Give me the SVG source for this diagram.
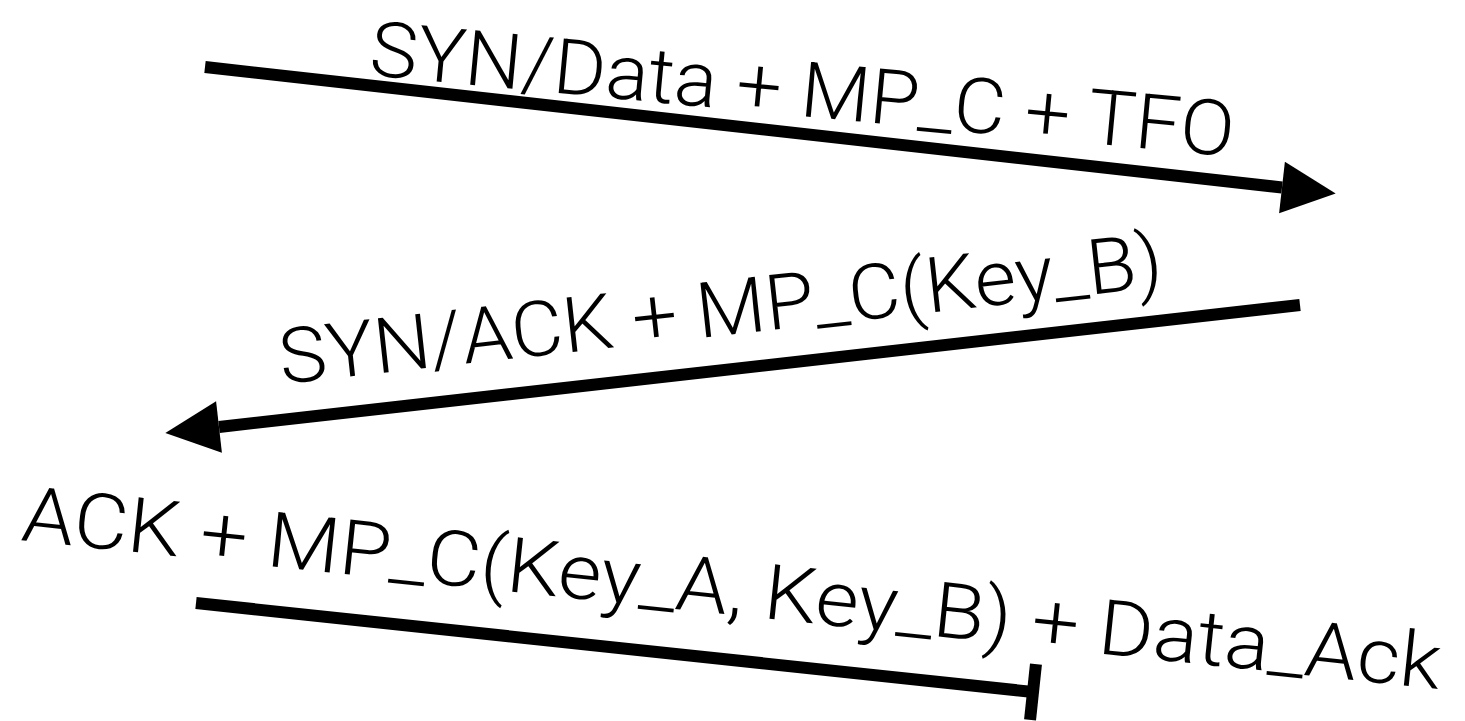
<svg xmlns="http://www.w3.org/2000/svg" width="1465" height="721" viewBox="0 0 1465 721">
  <style>
    .lbl { font-family: Roboto, "Liberation Sans", sans-serif; font-weight: 300; font-size: 77px; fill: #000; }
    .msg { stroke: #000; stroke-width: 12; fill: none; stroke-linecap: butt; }
  </style>
  <defs>
    <marker id="head" markerUnits="userSpaceOnUse" markerWidth="56" markerHeight="52" refX="0" refY="26" orient="auto" overflow="visible">
      <path d="M0,0 L54,26 L0,52 Z" fill="#000"/>
    </marker>
    <marker id="bar" markerUnits="userSpaceOnUse" markerWidth="12" markerHeight="56" refX="6" refY="28" orient="auto" overflow="visible">
      <rect x="0" y="0" width="12" height="56" fill="#000"/>
    </marker>
  </defs>
  <rect width="1465" height="721" fill="#fff"/>
  <g id="connectors">
    <line id="syn" class="msg" x1="205" y1="67" x2="1282" y2="187.5" marker-end="url(#head)"/>
    <line id="synack" class="msg" x1="1300" y1="305" x2="219" y2="427" marker-end="url(#head)"/>
    <line id="ack" class="msg" x1="196" y1="603" x2="1033" y2="692" marker-end="url(#bar)"/>
  </g>
  <g id="label-syn">
    <text class="lbl" x="368" y="75" textLength="868" lengthAdjust="spacingAndGlyphs" transform="rotate(5.4 368 75)">SYN/Data + MP_C + TFO</text>
  </g>
  <g id="label-synack">
    <text class="lbl" x="282" y="384" textLength="888" lengthAdjust="spacingAndGlyphs" transform="rotate(-6.3 282 384)">SYN/ACK + MP_C(Key_B)</text>
  </g>
  <g id="label-ack">
    <text class="lbl" x="20" y="540" textLength="1426" lengthAdjust="spacingAndGlyphs" transform="rotate(6 20 540)">ACK + MP_C(Key_A, Key_B) + Data_Ack</text>
  </g>
</svg>
